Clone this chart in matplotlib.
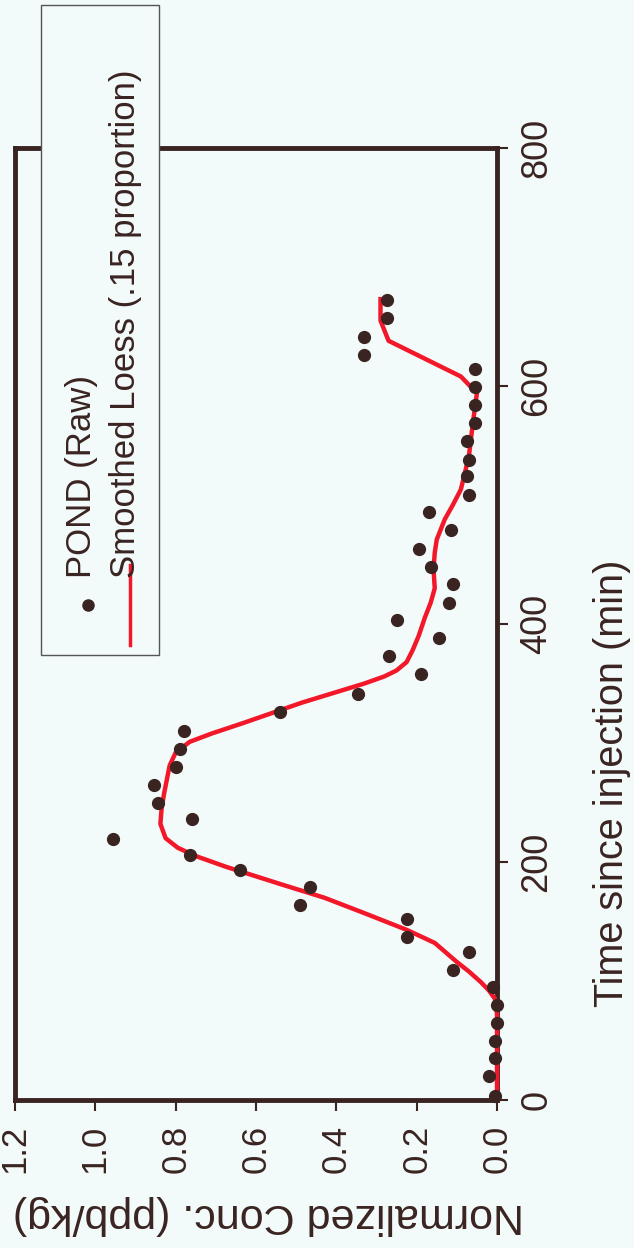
import numpy as np
import matplotlib
matplotlib.use("Agg")
import matplotlib.pyplot as plt
from matplotlib.patches import Rectangle
from matplotlib.lines import Line2D

plt.rcParams['font.family'] = ['Liberation Sans', 'DejaVu Sans']

# raw pond samples: minutes since injection, normalized conc (ppb/kg)
raw_time = [3, 20, 35, 50, 65, 80, 95, 109, 124, 137, 152, 164, 179, 193, 206,
            219, 236, 250, 265, 280, 295, 310, 326, 341, 358, 373, 388, 403,
            418, 434, 448, 463, 479, 494, 508, 524, 538, 554, 569, 584, 599,
            614, 626, 641, 657, 672]
raw_conc = [0.005, 0.02, 0.005, 0.005, 0.0, 0.0, 0.01, 0.11, 0.07, 0.225, 0.225,
            0.49, 0.465, 0.64, 0.765, 0.955, 0.76, 0.845, 0.855, 0.80, 0.79,
            0.78, 0.54, 0.345, 0.19, 0.27, 0.145, 0.25, 0.12, 0.11, 0.165,
            0.195, 0.115, 0.17, 0.07, 0.075, 0.07, 0.075, 0.055, 0.055, 0.055,
            0.055, 0.33, 0.33, 0.275, 0.275]

# loess fit (.15 span)
loess_time = [0, 40, 72, 85, 92, 99, 108, 116, 132, 143, 157, 170, 181, 196,
              205, 212, 220, 232, 245, 259, 281, 292, 301, 308, 317, 334, 350,
              356, 361, 368, 378, 390, 405, 418, 430, 446, 460, 471, 488, 500,
              513, 541, 569, 594, 608, 638, 655, 673]
loess_conc = [0.0, 0.0, 0.0, 0.005, 0.02, 0.04, 0.07, 0.10, 0.155, 0.225, 0.33,
              0.43, 0.535, 0.675, 0.75, 0.795, 0.825, 0.838, 0.835, 0.828,
              0.815, 0.80, 0.765, 0.71, 0.63, 0.485, 0.33, 0.28, 0.25, 0.225,
              0.21, 0.195, 0.18, 0.165, 0.155, 0.158, 0.155, 0.15, 0.13, 0.11,
              0.09, 0.07, 0.06, 0.05, 0.09, 0.27, 0.29, 0.29]

conc_ticks = [0.0, 0.2, 0.4, 0.6, 0.8, 1.0, 1.2]
time_ticks = [0, 200, 400, 600, 800]

bg = '#f2fafa'
ink = '#3a2422'
red = '#f2182a'

W, H = 634, 1248
fig = plt.figure(figsize=(W / 100, H / 100), dpi=100, facecolor=bg)

# the page is turned sideways: time runs up the page, conc runs right-to-left
ax = fig.add_axes([15 / W, 148 / H, 482 / W, 952 / H], facecolor=bg)
ax.plot(loess_conc, loess_time, color=red, lw=3.2, zorder=3, clip_on=False,
        solid_joinstyle='round')
ax.plot(raw_conc, raw_time, 'o', color=ink, ms=8.5, zorder=4, clip_on=False)

ax.set_xlim(1.2, 0.0)
ax.set_ylim(0, 800)
ax.set_xticks(conc_ticks)
ax.set_xticklabels(['%.1f' % v for v in conc_ticks], rotation=90)
ax.set_yticks(time_ticks)
ax.set_yticklabels([str(v) for v in time_ticks], rotation=90, va='center')
ax.yaxis.tick_right()
ax.yaxis.set_label_position('right')
ax.tick_params(axis='x', direction='out', length=8, width=1.5, color=ink,
               labelsize=25, labelcolor=ink, pad=10)
ax.tick_params(axis='y', direction='out', length=8, width=1.5, color=ink,
               labelsize=26, labelcolor=ink, pad=8)

for s in ax.spines.values():
    s.set_color(ink)
    s.set_linewidth(3.5)

ax.set_xlabel('Normalized Conc. (ppb/kg)', fontsize=31, color=ink,
              rotation=180, ha='center', va='center')
ax.xaxis.set_label_coords(0.525, -0.121)
ax.set_ylabel('Time since injection (min)', fontsize=28.5, color=ink,
              rotation=90, ha='center', va='center')
ax.yaxis.set_label_coords(1.239, 0.333)

# legend drawn by hand so its text can stand sideways
fig.add_artist(Rectangle((41 / W, 1 - 655 / H), 118 / W, 650 / H,
                         transform=fig.transFigure, facecolor=bg,
                         edgecolor='#555555', lw=1.0, zorder=5))
fig.add_artist(Line2D([88 / W], [1 - 605 / H], marker='o', color=ink, ms=8,
                      transform=fig.transFigure, zorder=6))
fig.add_artist(Line2D([130 / W, 130 / W], [1 - 645 / H, 1 - 565 / H],
                      color=red, lw=2.5, transform=fig.transFigure, zorder=6))
fig.text(81 / W, 1 - 578 / H, 'POND (Raw)', rotation=90, fontsize=25,
         color=ink, ha='center', va='bottom', zorder=7)
fig.text(125 / W, 1 - 578 / H, 'Smoothed Loess (.15 proportion)', rotation=90,
         fontsize=25, color=ink, ha='center', va='bottom', zorder=7)

fig.savefig('out.png', dpi=100, facecolor=bg)
